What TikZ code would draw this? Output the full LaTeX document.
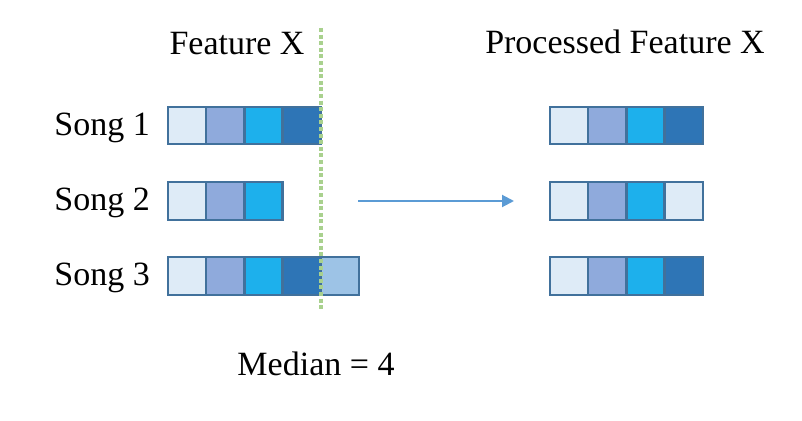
\documentclass[tikz,border=0pt]{standalone}
\usepackage{fontspec}
\setmainfont{Liberation Serif}
\usepackage{tikz}
\usetikzlibrary{arrows.meta,positioning}
\definecolor{cellA}{HTML}{DEEBF7}
\definecolor{cellB}{HTML}{8FAADC}
\definecolor{cellC}{HTML}{1DB0EC}
\definecolor{cellD}{HTML}{2E75B6}
\definecolor{cellE}{HTML}{9DC3E6}
\definecolor{cellLine}{HTML}{41719C}
\definecolor{medGreen}{HTML}{A9D18E}
\definecolor{arrBlue}{HTML}{5B9BD5}
\begin{document}
\begin{tikzpicture}[
  x=1pt,y=-1pt,
  font=\fontsize{34pt}{40pt}\selectfont,
  node distance=0pt,
  cell/.style={draw=cellLine,line width=2.4pt,inner sep=0pt,outer sep=0pt,
               minimum width=38.2pt,minimum height=37.5pt},
  ca/.style={cell,fill=cellA},
  cb/.style={cell,fill=cellB},
  cc/.style={cell,fill=cellC},
  cd/.style={cell,fill=cellD},
  ce/.style={cell,fill=cellE},
  lbl/.style={inner sep=0pt},
  arr/.style={-{Triangle[length=12pt,width=12pt]},arrBlue,line width=2pt},
  med/.style={medGreen,line width=3.5pt,dash pattern=on 4pt off 2.6pt},
]
  \useasboundingbox (0,0) rectangle (802,420);

  % input songs
  \node[ca] (a1) at (187.1,125.5) {};
  \node[cb,right=of a1] (a2) {};
  \node[cc,right=of a2] (a3) {};
  \node[cd,right=of a3] (a4) {};

  \node[ca] (b1) at (187.1,201) {};
  \node[cb,right=of b1] (b2) {};
  \node[cc,right=of b2] (b3) {};

  \node[ca] (c1) at (187.1,276) {};
  \node[cb,right=of c1] (c2) {};
  \node[cc,right=of c2] (c3) {};
  \node[cd,right=of c3] (c4) {};
  \node[ce,right=of c4] (c5) {};

  % processed songs
  \node[ca] (p1) at (569.1,125.5) {};
  \node[cb,right=of p1] (p2) {};
  \node[cc,right=of p2] (p3) {};
  \node[cd,right=of p3] (p4) {};

  \node[ca] (q1) at (569.1,201) {};
  \node[cb,right=of q1] (q2) {};
  \node[cc,right=of q2] (q3) {};
  \node[ca,right=of q3] (q4) {};

  \node[ca] (r1) at (569.1,276) {};
  \node[cb,right=of r1] (r2) {};
  \node[cc,right=of r2] (r3) {};
  \node[cd,right=of r3] (r4) {};

  % labels
  \node[lbl,anchor=base] (fx) at (237,55) {Feature X};
  \node[lbl,anchor=base] (pfx) at (625,54) {Processed Feature X};
  \node[lbl,anchor=base east] (s1) at (150,135) {Song 1};
  \node[lbl,anchor=base east] (s2) at (150,210) {Song 2};
  \node[lbl,anchor=base east] (s3) at (150,285) {Song 3};
  \node[lbl,anchor=base] (mlbl) at (316,375) {Median = 4};

  % arrow
  \coordinate (from) at (358,201);
  \coordinate (to) at (q1.west -| 514,0);
  \draw[arr] (from) -- (to);

  % median line
  \coordinate (mtop) at (321,28);
  \coordinate (mbot) at (321,310);
  \draw[med] (mtop) -- (mbot);
\end{tikzpicture}
\end{document}
